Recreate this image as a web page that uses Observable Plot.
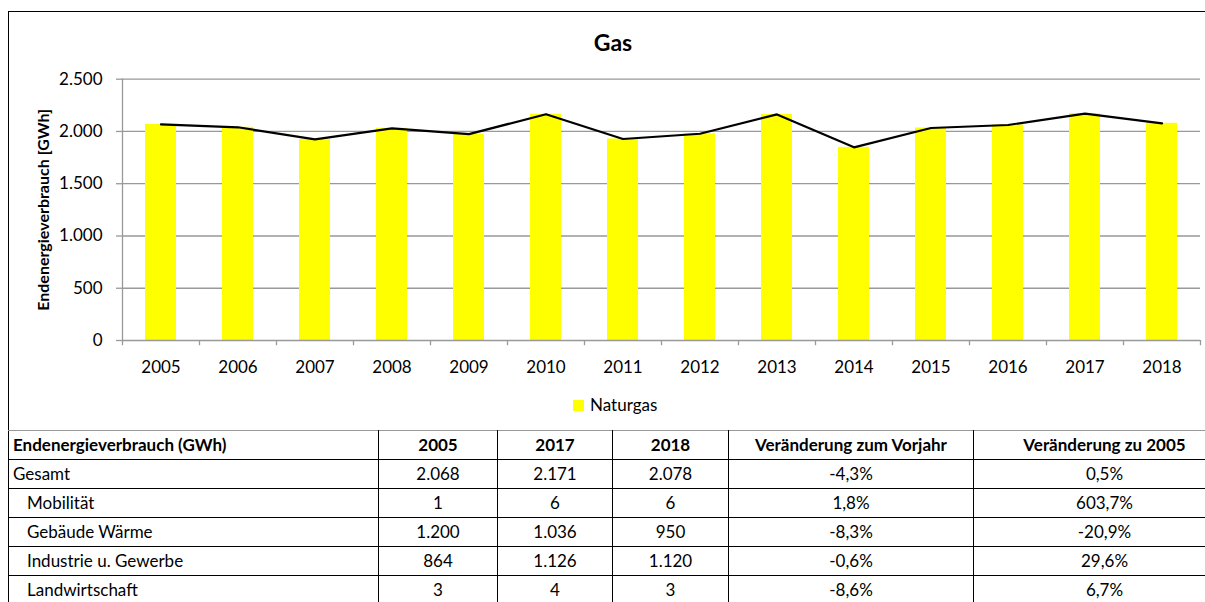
<!DOCTYPE html>
<html>
<head>
<meta charset="utf-8">
<script src="https://cdn.jsdelivr.net/npm/d3@7"></script>
<script src="https://cdn.jsdelivr.net/npm/@observablehq/plot@0.6"></script>
<style>
  html, body { margin: 0; padding: 0; background: #fff; width: 1205px; height: 602px; overflow: hidden; font-family: Lato, "Open Sans", sans-serif; color: #000; }
  #box { position: absolute; left: 8px; top: 11px; width: 1230px; height: 419px; border-left: 1.5px solid #000; border-top: 1.5px solid #000; box-sizing: border-box; }
  #title { position: absolute; left: 0; top: 27px; width: 1226px; text-align: center; font-weight: bold; font-size: 23px; line-height: 30px; }
  #chart { position: absolute; left: 0; top: 60px; width: 1220px; }
  #chart svg { max-width: none; }
  #legend { position: absolute; left: 573px; top: 396px; font-size: 17px; line-height: 18px; display: flex; align-items: center; }
  #legend .sw { width: 11px; height: 11px; background: #ffff00; margin-right: 6px; }
  #tbl { position: absolute; left: 8px; top: 430px; border-collapse: collapse; table-layout: fixed; font-size: 17px; }
  #tbl td { border: 1.5px solid #000; height: 29px; padding: 0 4px; white-space: nowrap; text-align: center; line-height: 28px; box-sizing: border-box; }
  #tbl tr.head td { border-top: 1.5px solid #999; font-weight: bold; }
  #tbl td.lbl { text-align: left; }
  #tbl td.sub { padding-left: 18px; }
</style>
</head>
<body>
<div id="box"></div>
<div id="title">Gas</div>
<div id="chart"></div>
<div id="legend"><div class="sw"></div><span id="legendLabel"></span></div>
<table id="tbl"></table>
<script>
// ---- chart data ----
const years = ["2005","2006","2007","2008","2009","2010","2011","2012","2013","2014","2015","2016","2017","2018"];
const naturgas = [2068, 2040, 1925, 2030, 1975, 2165, 1928, 1978, 2163, 1848, 2033, 2062, 2171, 2078];
const yTicks = [0, 500, 1000, 1500, 2000, 2500];
const chartTitle = "Gas";
const yLabel = "Endenergieverbrauch [GWh]";
const seriesName = "Naturgas";

// ---- table data ----
const tableHeader = ["Endenergieverbrauch (GWh)", "2005", "2017", "2018", "Veränderung zum Vorjahr", "Veränderung zu 2005"];
const rowLabels = ["Gesamt", "Mobilität", "Gebäude Wärme", "Industrie u. Gewerbe", "Landwirtschaft"];
const col2005 = ["2.068", "1", "1.200", "864", "3"];
const col2017 = ["2.171", "6", "1.036", "1.126", "4"];
const col2018 = ["2.078", "6", "950", "1.120", "3"];
const colVorjahr = ["-4,3%", "1,8%", "-8,3%", "-0,6%", "-8,6%"];
const col2005Change = ["0,5%", "603,7%", "-20,9%", "29,6%", "6,7%"];

const data = years.map((y, i) => ({year: y, value: naturgas[i]}));
const de = d3.formatLocale({decimal: ",", thousands: ".", grouping: [3], currency: ["", " €"]});
const fmt = de.format(",");

const W = 1220, H = 330, mL = 122, mR = 20, mT = 18.7, mB = 50;
const halfBand = (W - mL - mR) / years.length / 2;
const grid = "#999999";

const plot = Plot.plot({
  width: W, height: H,
  marginLeft: mL, marginRight: mR, marginTop: mT, marginBottom: mB,
  style: {fontFamily: "Lato, 'Open Sans', sans-serif", fontSize: "17px", background: "transparent", overflow: "visible", color: "#000", maxWidth: "none"},
  x: {domain: years, paddingInner: 0.6, paddingOuter: 0.3, align: 0.5, label: null},
  y: {domain: [0, 2500], label: null},
  marks: [
    Plot.ruleY(yTicks.filter(d => d > 0), {stroke: grid, strokeWidth: 1.3}),
    Plot.barY(data, {x: "year", y: "value", fill: "#ffff00"}),
    Plot.lineY(data, {x: "year", y: "value", stroke: "#000", strokeWidth: 2.2}),
    Plot.ruleY([0], {stroke: grid, strokeWidth: 1.3}),
    Plot.frame({anchor: "left", stroke: grid, strokeWidth: 1.3}),
    // category tick marks between bands
    Plot.ruleX(years, {x: d => d, dx: -halfBand, y1: 0, y2: -50, stroke: grid, strokeWidth: 1.3}),
    Plot.ruleX([years[years.length - 1]], {x: d => d, dx: halfBand, y1: 0, y2: -50, stroke: grid, strokeWidth: 1.3}),
    Plot.axisY(yTicks, {tickSize: 6, tickPadding: 14, stroke: grid, strokeWidth: 1.3, tickFormat: fmt, fontSize: 17, fill: "#000"}),
    Plot.axisX({tickSize: 0, tickPadding: 20, fontSize: 17, fill: "#000"}),
    Plot.text([yLabel], {frameAnchor: "left", dx: -79, rotate: -90, textAnchor: "middle", fontWeight: "bold", fontSize: 16, fill: "#000"})
  ]
});
document.getElementById("chart").appendChild(plot);
document.getElementById("title").textContent = chartTitle;
document.getElementById("legendLabel").textContent = seriesName;

// ---- table ----
const widths = [370, 119, 115, 116, 245, 262];
const tbl = document.getElementById("tbl");
const cg = document.createElement("colgroup");
widths.forEach(w => { const c = document.createElement("col"); c.style.width = w + "px"; cg.appendChild(c); });
tbl.appendChild(cg);
tbl.style.width = widths.reduce((a, b) => a + b, 0) + "px";
const hr = document.createElement("tr");
hr.className = "head";
tableHeader.forEach((h, i) => { const td = document.createElement("td"); td.textContent = h; if (i === 0) td.className = "lbl"; hr.appendChild(td); });
tbl.appendChild(hr);
rowLabels.forEach((lab, r) => {
  const tr = document.createElement("tr");
  [lab, col2005[r], col2017[r], col2018[r], colVorjahr[r], col2005Change[r]].forEach((v, i) => {
    const td = document.createElement("td");
    td.textContent = v;
    if (i === 0) td.className = r === 0 ? "lbl" : "lbl sub";
    tr.appendChild(td);
  });
  tbl.appendChild(tr);
});
</script>
</body>
</html>
